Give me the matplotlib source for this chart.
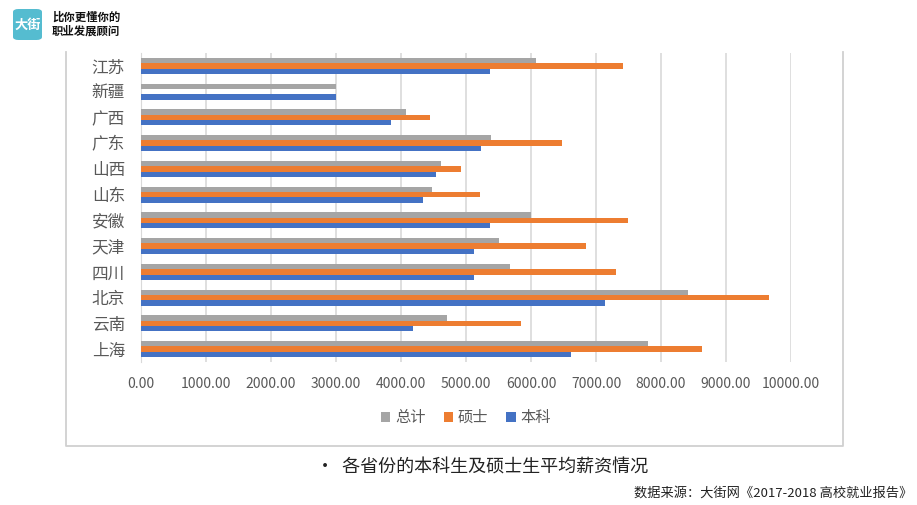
import matplotlib.pyplot as plt
import numpy as np
from matplotlib.lines import Line2D
from matplotlib.patches import FancyBboxPatch

plt.rcParams['font.family'] = ['Noto Sans CJK SC', 'DejaVu Sans']

# Provinces from bottom to top, as drawn on the y axis.
provinces = ['上海', '云南', '北京', '四川', '天津', '安徽',
             '山东', '山西', '广东', '广西', '新疆', '江苏']
total = [7800, 4700, 8420, 5670, 5510, 6000, 4480, 4620, 5390, 4070, 3000, 6080]
master = [8630, 5840, 9660, 7310, 6840, 7490, 5210, 4920, 6480, 4450, 0, 7420]
bachelor = [6610, 4180, 7140, 5120, 5120, 5370, 4340, 4540, 5230, 3840, 3000, 5370]
xticks = np.arange(0, 10001, 1000)

gray = '#A5A5A5'
orange = '#ED7D31'
blue = '#4472C4'
text_color = '#595959'

W, H = 917, 505
fig = plt.figure(figsize=(W / 100, H / 100), dpi=100)

# Outer chart frame (top edge is cut off in the original).
fx = [66 / W, 66 / W, 843 / W, 843 / W]
fy = [1 - 52 / H, 1 - 446 / H, 1 - 446 / H, 1 - 52 / H]
fig.lines.append(Line2D(fx, fy, transform=fig.transFigure,
                        color='#D0D0D0', linewidth=1.3))

ax = fig.add_axes([141 / W, 1 - 362 / H, (791 - 141) / W, (362 - 53) / H])

y = np.arange(len(provinces))
h = 0.205
ax.barh(y + h, total, height=h, color=gray, label='总计', zorder=3)
ax.barh(y, master, height=h, color=orange, label='硕士', zorder=3)
ax.barh(y - h, bachelor, height=h, color=blue, label='本科', zorder=3)

ax.set_xlim(0, 10000)
ax.set_ylim(-0.5, len(provinces) - 0.5)
ax.set_xticks(xticks)
ax.set_xticklabels([f'{v:.2f}' for v in xticks], fontsize=10, color=text_color)
ax.set_yticks(y)
ax.set_yticklabels(provinces, fontsize=12, color=text_color)
ax.tick_params(axis='both', length=0)
ax.tick_params(axis='x', pad=11)
ax.tick_params(axis='y', pad=11.5)
ax.grid(axis='x', color='#D9D9D9', linewidth=1.2, zorder=0)
for side in ['top', 'right', 'bottom']:
    ax.spines[side].set_visible(False)
ax.spines['left'].set_color('#D9D9D9')

ax.legend(loc='center', bbox_to_anchor=(0.5, -0.18), ncol=3, frameon=False,
          fontsize=11, handlelength=0.6, handleheight=0.6,
          handletextpad=0.3, columnspacing=1.2, labelcolor=text_color)

# Logo in the top left corner.
logo = FancyBboxPatch((13 / W, 1 - 40 / H), 29 / W, 31 / H,
                      boxstyle='round,pad=0,rounding_size=0.006',
                      transform=fig.transFigure, facecolor='#55BCD0',
                      edgecolor='none')
fig.patches.append(logo)
fig.text(27.5 / W, 1 - 25 / H, '大街', color='white', fontsize=9.5,
         fontweight='bold', ha='center', va='center')
fig.text(52 / W, 1 - 17 / H, '比你更懂你的', fontsize=8.2, fontweight='bold',
         ha='left', va='center', color='#111111')
fig.text(52 / W, 1 - 31 / H, '职业发展顾问', fontsize=8.2, fontweight='bold',
         ha='left', va='center', color='#111111')

# Caption and source below the chart.
fig.text(316 / W, 1 - 468 / H, '•  各省份的本科生及硕士生平均薪资情况',
         fontsize=13, ha='left', va='center', color='#222222')
fig.text(912 / W, 1 - 493 / H, '数据来源：大街网《2017-2018 高校就业报告》',
         fontsize=9.5, ha='right', va='center', color='#222222')

fig.savefig('out.png', dpi=100)
